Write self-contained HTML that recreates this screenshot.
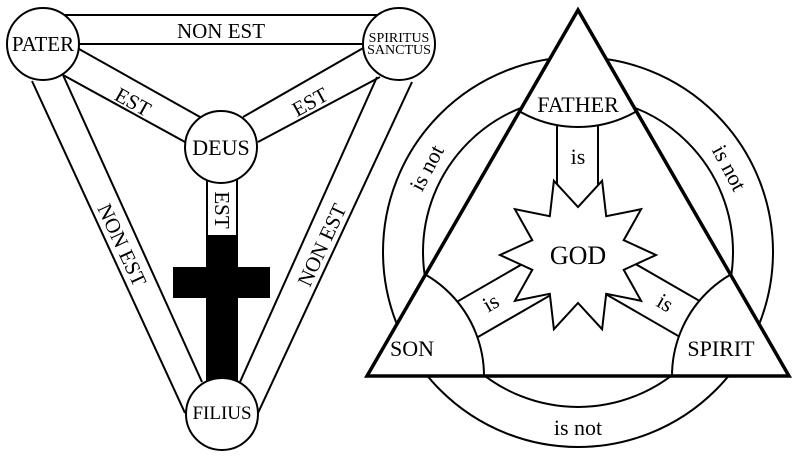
<!DOCTYPE html>
<html><head><style>
html,body{margin:0;padding:0;background:#fff;width:800px;height:458px;overflow:hidden;}
svg{display:block;}
svg text{font-family:"Liberation Serif","Times New Roman",Times,"DejaVu Serif","Nimbus Roman",serif !important;fill:#000;}
</style></head><body>
<svg width="800" height="458" viewBox="0 0 800 458" xmlns="http://www.w3.org/2000/svg">
<defs>
<clipPath id="tri"><polygon points="578,10 367,376 789,376"/></clipPath>
</defs>
<g stroke="#000" stroke-width="2" fill="#fff">
<line x1="43" y1="15" x2="399" y2="15"/>
<line x1="79" y1="44" x2="363" y2="44"/>
<line x1="32" y1="81" x2="185" y2="413"/>
<line x1="63" y1="75" x2="202" y2="382"/>
<line x1="377" y1="77" x2="240" y2="382"/>
<line x1="412" y1="82" x2="258" y2="413"/>
<line x1="79" y1="49" x2="200" y2="117"/>
<line x1="63" y1="75" x2="185" y2="142"/>
<line x1="365" y1="47" x2="243" y2="117"/>
<line x1="380" y1="77" x2="258" y2="142"/>
<rect x="207" y="180" width="30" height="200"/>
</g>
<rect x="207" y="235" width="30" height="145" fill="#000"/>
<rect x="173" y="267" width="97" height="31" fill="#000"/>
<g stroke="#000" stroke-width="2" fill="#fff">
<circle cx="43" cy="44" r="36"/>
<circle cx="399" cy="44" r="36"/>
<circle cx="221" cy="147" r="36"/>
<circle cx="222" cy="414" r="36"/>
</g>
<g font-size="21" text-anchor="middle">
<text x="43" y="51">PATER</text>
<text x="221" y="155" font-size="22">DEUS</text>
<text x="222" y="419" font-size="19">FILIUS</text>
<text x="221" y="38">NON EST</text>
<text font-size="14" x="399" y="42">SPIRITUS</text>
<text font-size="14" x="399" y="54">SANCTUS</text>
<text transform="translate(133,102) rotate(29)" y="7">EST</text>
<text transform="translate(310,102) rotate(-29)" y="7">EST</text>
<text transform="translate(222,210) rotate(90)" y="7">EST</text>
<text transform="translate(122,245) rotate(65)" y="7">NON EST</text>
<text transform="translate(322,245) rotate(-65)" y="7">NON EST</text>
</g>
<g stroke="#000" stroke-width="2" fill="none">
<circle cx="578" cy="252" r="195"/>
<circle cx="578" cy="252" r="155"/>
</g>
<polygon points="578,10 367,376 789,376" fill="#fff"/>
<g clip-path="url(#tri)" stroke="#000" stroke-width="2" fill="#fff">
<rect x="557" y="100" width="41" height="155"/>
<rect x="557" y="100" width="41" height="155" transform="rotate(120 578 255)"/>
<rect x="557" y="100" width="41" height="155" transform="rotate(-120 578 255)"/>
<circle cx="578" cy="10" r="117"/>
<circle cx="367" cy="376" r="117"/>
<circle cx="789" cy="376" r="117"/>
</g>
<polygon fill="#fff" stroke="#000" stroke-width="2" points="656,255 623.7,240.2 641.1,209.2 606.2,216.2 602.1,180.8 578,207 553.9,180.8 549.8,216.2 514.9,209.2 532.3,240.2 500,255 532.3,269.8 514.9,300.8 549.8,293.8 553.9,329.2 578,303 602.1,329.2 606.2,293.8 641.1,300.8 623.7,269.8"/>
<polygon points="578,10 367,376 789,376" fill="none" stroke="#000" stroke-width="3.5"/>
<g font-size="22" text-anchor="middle">
<text x="578" y="112">FATHER</text>
<text x="412" y="356">SON</text>
<text x="721" y="356">SPIRIT</text>
<text x="578" y="264" font-size="26">GOD</text>
<text x="578" y="164">is</text>
<text transform="translate(491,303) rotate(-30)" y="7">is</text>
<text transform="translate(665,303) rotate(30)" y="7">is</text>
<text x="578" y="435">is not</text>
<text transform="translate(427,168) rotate(-62)" y="7">is not</text>
<text transform="translate(729,168) rotate(62)" y="7">is not</text>
</g>
</svg>
</body></html>
